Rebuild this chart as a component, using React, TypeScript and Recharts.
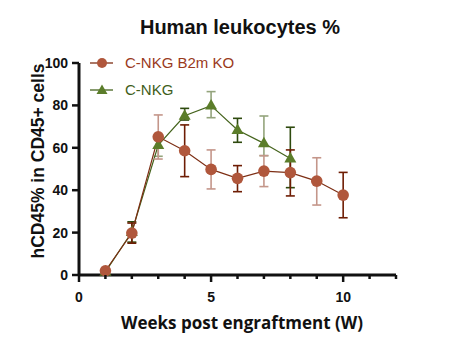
import {
  LineChart, Line, XAxis, YAxis, ErrorBar,
} from 'recharts'

const weeks = [1, 2, 3, 4, 5, 6, 7, 8, 9, 10]

// C-NKG B2m KO
const koMean = [2, 19.8, 65.2, 58.6, 49.8, 45.6, 49, 48.3, 44.3, 37.7]
const koUpper = [2, 24.5, 75.5, 70.8, 59, 51.6, 56.3, 59, 55.3, 48.4]
const koLower = [2, 15, 54.7, 46.4, 40.6, 39.3, 41.7, 37.3, 33, 27]

// C-NKG
const nkgMean = [1.5, 20.3, 61.3, 75.1, 79.9, 68.4, 62.1, 55, null, null]
const nkgUpper = [1.5, 25.1, 64, 78.6, 86.5, 73.9, 75, 69.7, null, null]
const nkgLower = [1.5, 15.5, 56, 73.1, 74.2, 62.6, 56.3, 41.2, null, null]

const xTicks = [0, 1, 2, 3, 4, 5, 6, 7, 8, 9, 10, 11, 12]
const xLabels = [0, 5, 10]
const yTicks = [0, 20, 40, 60, 80, 100]

const KO_DOT = '#b0573c'
const KO_LINE = '#7d2e14'
const KO_ERR_LIGHT = '#c4968a'
const KO_ERR_DARK = '#6e1d04'
const NKG_DOT = '#5b7d2a'
const NKG_LINE = '#44631c'
const NKG_ERR_LIGHT = '#94a47c'
const NKG_ERR_DARK = '#2e4a0e'

const FONT = '"Liberation Sans", Arial, sans-serif'
const XLABEL_FONT = '"Open Sans", "Liberation Sans", sans-serif'

// split errors into two keys so odd/even weeks can take different shades
const data = weeks.map((w, i) => {
  const koErr = [koMean[i] - koLower[i], koUpper[i] - koMean[i]]
  const m = nkgMean[i]
  const nkgErr = m == null ? undefined : [m - (nkgLower[i] as number), (nkgUpper[i] as number) - m]
  const odd = w % 2 === 1
  return {
    week: w,
    ko: koMean[i],
    nkg: m,
    koErrA: odd ? koErr : undefined,
    koErrB: odd ? undefined : koErr,
    nkgErrA: odd ? nkgErr : undefined,
    nkgErrB: odd ? undefined : nkgErr,
  }
})

function XTick({ x, y, payload }: any) {
  const major = xLabels.includes(payload.value)
  return (
    <g>
      <line x1={x} x2={x} y1={y} y2={y + (major ? 7 : 4)} stroke="#111" strokeWidth={2.5} />
      {major && (
        <text x={x} y={y + 27} textAnchor="middle" fontFamily={FONT} fontWeight="bold" fontSize={14} fill="#111">
          {payload.value}
        </text>
      )}
    </g>
  )
}

function YTick({ x, y, payload }: any) {
  return (
    <g>
      <line x1={x - 7} x2={x} y1={y} y2={y} stroke="#111" strokeWidth={2.5} />
      <text x={x - 11} y={y + 5} textAnchor="end" fontFamily={FONT} fontWeight="bold" fontSize={14} fill="#111">
        {payload.value}
      </text>
    </g>
  )
}

function Triangle({ cx, cy }: any) {
  if (cx == null || cy == null) return null
  return <path d={`M${cx},${cy - 6.5} L${cx - 6},${cy + 4} L${cx + 6},${cy + 4} Z`} fill={NKG_DOT} />
}

function Circle({ cx, cy }: any) {
  if (cx == null || cy == null) return null
  return <circle cx={cx} cy={cy} r={5.8} fill={KO_DOT} />
}

const legendRows = [
  { name: 'C-NKG B2m KO', line: KO_LINE, color: '#9a3a1c', mark: 'c' },
  { name: 'C-NKG', line: NKG_LINE, color: '#3f5e1a', mark: 't' },
]

function LegendBox() {
  return (
    <div style={{ position: 'absolute', left: 88, top: 49 }}>
      {legendRows.map((r) => (
        <div key={r.name} style={{ display: 'flex', alignItems: 'center', height: 27 }}>
          <svg width={37} height={16}>
            <line x1={2} x2={25} y1={8} y2={8} stroke={r.line} strokeWidth={1.3} />
            {r.mark === 'c'
              ? <circle cx={14} cy={8} r={5} fill={KO_DOT} />
              : <path d="M14,2.5 L8.5,12 L19.5,12 Z" fill={NKG_DOT} />}
          </svg>
          <span style={{ fontFamily: FONT, fontSize: 15, color: r.color }}>{r.name}</span>
        </div>
      ))}
    </div>
  )
}

export default function App() {
  return (
    <div style={{ position: 'absolute', left: 0, top: 0, width: 449, height: 350, background: '#fff' }}>
      <LineChart width={449} height={350} data={data} margin={{ top: 63, right: 53, bottom: 0, left: 0 }}>
        <text x={240} y={34} textAnchor="middle" fontFamily={FONT} fontWeight="bold" fontSize={20} fill="#111">
          Human leukocytes %
        </text>
        <text
          x={44}
          y={161}
          transform="rotate(-90 44 161)"
          textAnchor="middle"
          fontFamily={FONT}
          fontWeight="bold"
          fontSize={17.5}
          fill="#111"
        >
          hCD45% in CD45+ cells
        </text>
        <text x={242} y={329} textAnchor="middle" fontFamily={XLABEL_FONT} fontWeight="bold" fontSize={17} fill="#111">
          Weeks post engraftment (W)
        </text>
        <XAxis
          dataKey="week"
          type="number"
          domain={[0, 12]}
          ticks={xTicks}
          interval={0}
          tick={<XTick />}
          tickLine={false}
          tickSize={0}
          tickMargin={0}
          axisLine={{ stroke: '#111', strokeWidth: 3 }}
          height={75}
        />
        <YAxis
          type="number"
          domain={[0, 100]}
          ticks={yTicks}
          interval={0}
          tick={<YTick />}
          tickLine={false}
          tickSize={0}
          tickMargin={0}
          axisLine={{ stroke: '#111', strokeWidth: 3 }}
          width={79}
        />
        <Line
          dataKey="nkg"
          name="C-NKG"
          stroke={NKG_LINE}
          strokeWidth={1.2}
          type="linear"
          dot={<Triangle />}
          activeDot={false}
          connectNulls={false}
          isAnimationActive={false}
        >
          <ErrorBar dataKey="nkgErrA" width={4.5} stroke={NKG_ERR_LIGHT} strokeWidth={1.6} isAnimationActive={false} />
          <ErrorBar dataKey="nkgErrB" width={4.5} stroke={NKG_ERR_DARK} strokeWidth={1.6} isAnimationActive={false} />
        </Line>
        <Line
          dataKey="ko"
          name="C-NKG B2m KO"
          stroke={KO_LINE}
          strokeWidth={1.2}
          type="linear"
          dot={<Circle />}
          activeDot={false}
          isAnimationActive={false}
        >
          <ErrorBar dataKey="koErrA" width={4.5} stroke={KO_ERR_LIGHT} strokeWidth={1.6} isAnimationActive={false} />
          <ErrorBar dataKey="koErrB" width={4.5} stroke={KO_ERR_DARK} strokeWidth={1.6} isAnimationActive={false} />
        </Line>
      </LineChart>
      <LegendBox />
    </div>
  )
}
